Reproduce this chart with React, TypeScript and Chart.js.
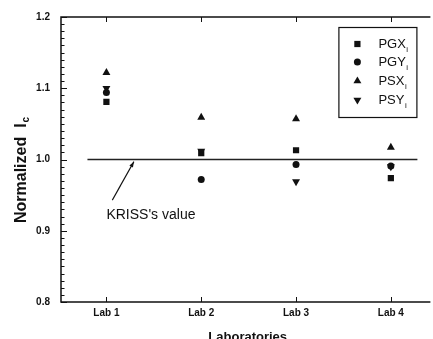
import React, { useEffect, useRef } from 'react';
import { Chart, registerables } from 'chart.js';

Chart.register(...registerables);

const labNames = ['Lab 1', 'Lab 2', 'Lab 3', 'Lab 4'];
const labPositions = [1, 2, 3, 4];
const pgxValues = [1.081, 1.009, 1.013, 0.974];
const pgyValues = [1.094, 0.972, 0.993, 0.991];
const psxValues = [1.122, 1.059, 1.057, 1.017];
const psyValues = [1.1, 1.012, 0.969, 0.99];
const seriesNames = ['PGX', 'PGY', 'PSX', 'PSY'];
const yTickValues = [0.8, 0.9, 1.0, 1.1, 1.2];
const referenceValue = 1.0;
const referenceSpan = [0.8, 4.28];
const arrowFrom = { x: 1.062, y: 0.943 };
const arrowTo = { x: 1.29, y: 0.997 };
const annotationText = "KRISS's value";
const annotationPos = { x: 1.0, y: 0.922 };

const FONT = 'Arial, "Liberation Sans", Helvetica, sans-serif';
const INK = '#111';

type Style = { pointStyle: string; rotation: number; radius: number };
const styles: Style[] = [
  { pointStyle: 'rect', rotation: 0, radius: 4.4 },
  { pointStyle: 'circle', rotation: 0, radius: 3.5 },
  { pointStyle: 'triangle', rotation: 0, radius: 4.6 },
  { pointStyle: 'triangle', rotation: 180, radius: 4.6 },
];

function drawMarker(ctx: CanvasRenderingContext2D, s: Style, x: number, y: number) {
  ctx.beginPath();
  if (s.pointStyle === 'rect') {
    const h = s.radius * Math.SQRT1_2;
    ctx.rect(x - h, y - h, 2 * h, 2 * h);
  } else if (s.pointStyle === 'circle') {
    ctx.arc(x, y, s.radius, 0, Math.PI * 2);
  } else {
    let rad = (s.rotation * Math.PI) / 180;
    const r = s.radius;
    ctx.moveTo(x + Math.sin(rad) * r, y - Math.cos(rad) * r);
    rad += (2 * Math.PI) / 3;
    ctx.lineTo(x + Math.sin(rad) * r, y - Math.cos(rad) * r);
    rad += (2 * Math.PI) / 3;
    ctx.lineTo(x + Math.sin(rad) * r, y - Math.cos(rad) * r);
    ctx.closePath();
  }
  ctx.fill();
}

const decorPlugin = {
  id: 'decor',
  afterDraw(chart: any) {
    const ctx: CanvasRenderingContext2D = chart.ctx;
    const { left, right, top, bottom } = chart.chartArea;
    const xs = chart.scales.x;
    const ys = chart.scales.y;
    ctx.save();
    ctx.strokeStyle = INK;
    ctx.fillStyle = INK;

    // frame
    ctx.lineWidth = 1.5;
    ctx.beginPath();
    ctx.moveTo(right + 2, top);
    ctx.lineTo(left, top);
    ctx.lineTo(left, bottom);
    ctx.lineTo(right + 2, bottom);
    ctx.stroke();

    // y ticks (major + minor, inward)
    ctx.lineWidth = 1;
    for (let i = 0; i <= 40; i++) {
      const v = 0.8 + i * 0.01;
      const py = Math.round(ys.getPixelForValue(v)) + 0.5;
      const len = i % 10 === 0 ? 6 : 3.5;
      ctx.beginPath();
      ctx.moveTo(left, py);
      ctx.lineTo(left + len, py);
      ctx.stroke();
    }
    // x ticks bottom & top
    labPositions.forEach((p) => {
      const px = Math.round(xs.getPixelForValue(p)) + 0.5;
      ctx.beginPath();
      ctx.moveTo(px, bottom);
      ctx.lineTo(px, bottom - 5);
      ctx.moveTo(px, top);
      ctx.lineTo(px, top + 5);
      ctx.stroke();
    });

    // arrow
    const ax0 = xs.getPixelForValue(arrowFrom.x);
    const ay0 = ys.getPixelForValue(arrowFrom.y);
    const ax1 = xs.getPixelForValue(arrowTo.x);
    const ay1 = ys.getPixelForValue(arrowTo.y);
    ctx.lineWidth = 1.1;
    ctx.beginPath();
    ctx.moveTo(ax0, ay0);
    ctx.lineTo(ax1, ay1);
    ctx.stroke();
    const ang = Math.atan2(ay1 - ay0, ax1 - ax0);
    ctx.beginPath();
    ctx.moveTo(ax1, ay1);
    ctx.lineTo(ax1 - 6 * Math.cos(ang - 0.35), ay1 - 6 * Math.sin(ang - 0.35));
    ctx.lineTo(ax1 - 6 * Math.cos(ang + 0.35), ay1 - 6 * Math.sin(ang + 0.35));
    ctx.closePath();
    ctx.fill();

    // annotation text
    ctx.font = `14px ${FONT}`;
    ctx.textAlign = 'left';
    ctx.textBaseline = 'middle';
    ctx.fillText(annotationText, xs.getPixelForValue(annotationPos.x), ys.getPixelForValue(annotationPos.y));

    // legend
    const lx = right - 90;
    const ly = top + 10;
    const lw = 78;
    const lh = 90;
    ctx.fillStyle = '#fff';
    ctx.fillRect(lx, ly, lw, lh);
    ctx.fillStyle = INK;
    ctx.lineWidth = 1.2;
    ctx.strokeRect(lx + 0.5, ly + 0.5, lw, lh);
    const rows = [17, 35, 54, 73];
    seriesNames.forEach((name, i) => {
      const y = ly + rows[i];
      drawMarker(ctx, styles[i], lx + 19, y);
      ctx.font = `13px ${FONT}`;
      ctx.textAlign = 'left';
      ctx.textBaseline = 'middle';
      ctx.fillText(name, lx + 40, y);
      const w = ctx.measureText(name).width;
      ctx.font = `8px ${FONT}`;
      ctx.fillText('i', lx + 40 + w + 0.5, y + 6);
    });

    // y title
    ctx.save();
    ctx.translate(21.5, 223);
    ctx.rotate(-Math.PI / 2);
    ctx.font = `bold 16px ${FONT}`;
    ctx.textAlign = 'left';
    ctx.textBaseline = 'middle';
    const t1 = 'Normalized  I';
    ctx.fillText(t1, 0, 0);
    const w1 = ctx.measureText(t1).width;
    ctx.font = `bold 10px ${FONT}`;
    ctx.fillText('c', w1 + 1, 5);
    ctx.restore();

    // x title
    ctx.font = `bold 13px ${FONT}`;
    ctx.textAlign = 'center';
    ctx.textBaseline = 'top';
    ctx.fillText('Laboratories', (left + right) / 2 + 3, 331);

    ctx.restore();
  },
};

export default function App() {
  const ref = useRef<HTMLCanvasElement>(null);
  useEffect(() => {
    if (!ref.current) return;
    const series = [pgxValues, pgyValues, psxValues, psyValues];
    const datasets: any[] = [
      {
        type: 'line',
        data: referenceSpan.map((x) => ({ x, y: referenceValue })),
        borderColor: '#222',
        borderWidth: 1.3,
        pointRadius: 0,
        fill: false,
        order: 10,
      },
      ...series.map((vals, i) => ({
        type: 'scatter',
        label: seriesNames[i],
        data: vals.map((v, j) => ({ x: labPositions[j], y: v })),
        pointStyle: styles[i].pointStyle,
        rotation: styles[i].rotation,
        pointRadius: styles[i].radius,
        backgroundColor: INK,
        borderColor: INK,
        borderWidth: 0,
        order: 4 - i,
      })),
    ];
    const chart = new Chart(ref.current, {
      type: 'scatter',
      data: { datasets },
      options: {
        responsive: false,
        animation: false,
        layout: { padding: { top: 16, right: 0, left: 0, bottom: 0 } },
        plugins: { legend: { display: false }, tooltip: { enabled: false } },
        scales: {
          x: {
            type: 'linear',
            min: 0.521,
            max: 4.396,
            grid: { display: false, drawTicks: false },
            border: { display: false },
            afterBuildTicks: (s: any) => {
              s.ticks = labPositions.map((v) => ({ value: v }));
            },
            afterFit: (s: any) => {
              s.height = 37;
            },
            ticks: {
              padding: 5,
              color: INK,
              font: { family: FONT, size: 10, weight: 'bold' },
              callback: (v: any) => labNames[labPositions.indexOf(Number(v))] ?? '',
              maxRotation: 0,
            },
          },
          y: {
            type: 'linear',
            min: 0.8,
            max: 1.2,
            grid: { display: false, drawTicks: false },
            border: { display: false },
            afterBuildTicks: (s: any) => {
              s.ticks = yTickValues.map((v) => ({ value: v }));
            },
            afterFit: (s: any) => {
              s.width = 61;
            },
            ticks: {
              padding: 11,
              color: INK,
              font: { family: FONT, size: 10, weight: 'bold' },
              callback: (v: any) => Number(v).toFixed(1),
            },
          },
        },
      },
      plugins: [decorPlugin],
    } as any);
    return () => chart.destroy();
  }, []);
  return (
    <canvas
      ref={ref}
      width={433}
      height={339}
      style={{ position: 'absolute', left: 0, top: 0, width: 433, height: 339 }}
    />
  );
}
